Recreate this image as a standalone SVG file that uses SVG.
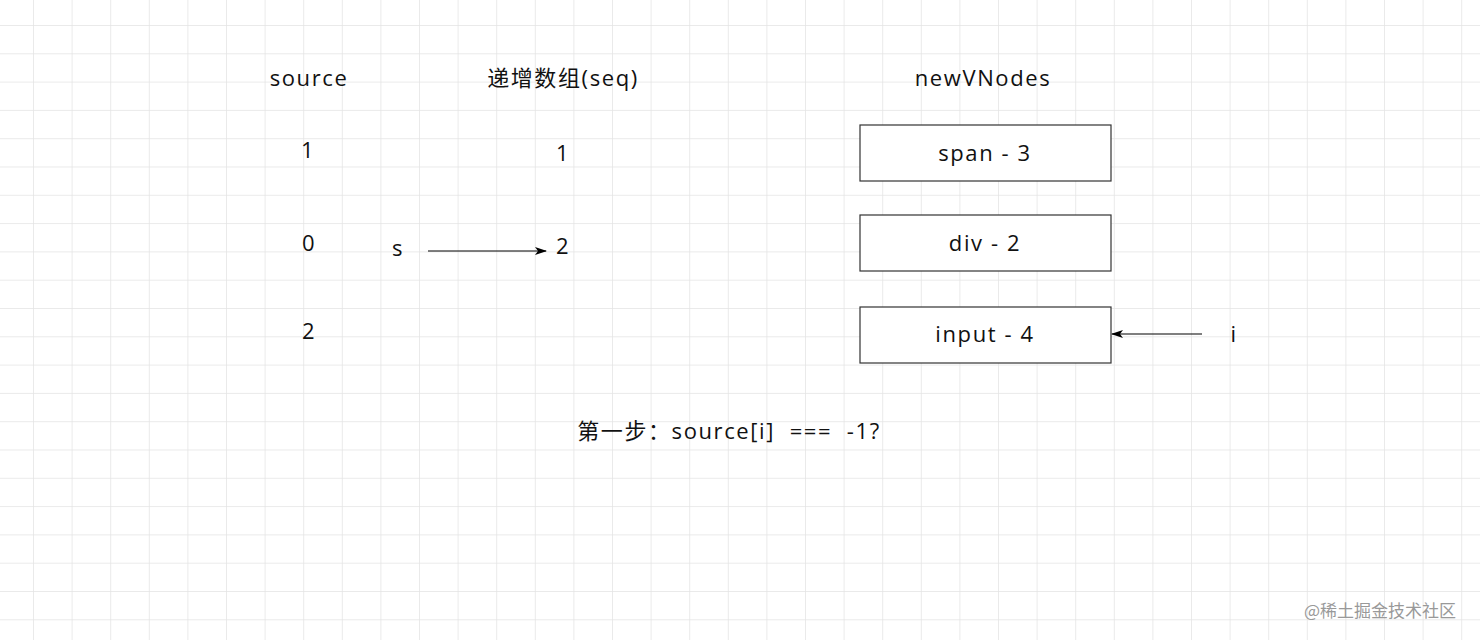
<svg xmlns="http://www.w3.org/2000/svg" width="1480" height="640" viewBox="0 0 1480 640">
<defs>
<pattern id="grid" x="33" y="25" width="38.6" height="28.3" patternUnits="userSpaceOnUse">
<path d="M0 0V28.3M0 0H38.6" fill="none" stroke="#e4e4e4" stroke-width="1.5"/>
</pattern>
<marker id="arr" markerWidth="12" markerHeight="10" refX="11" refY="5" orient="auto" markerUnits="userSpaceOnUse">
<path d="M0 1L12 5L0 9L3 5Z" fill="#000"/>
</marker>
<style>
text{font-family:"Open Sans","Noto Sans CJK SC",sans-serif;font-size:22px;letter-spacing:1.6px;fill:#111;text-anchor:middle}
.box{fill:#fff;stroke:#333;stroke-width:1.2}
.c{stroke:#000;stroke-width:1.2;fill:none;marker-end:url(#arr)}
</style>
</defs>
<rect width="1480" height="640" fill="#fff"/>
<rect width="1480" height="640" fill="url(#grid)"/>
<g id="headers">
<text x="309" y="86">source</text>
<text x="563" y="86">递增数组(seq)</text>
<text x="983" y="86">newVNodes</text>
</g>
<g id="source">
<text x="308" y="158">1</text>
<text x="309" y="251">0</text>
<text x="309" y="339">2</text>
</g>
<g id="seq">
<text x="563" y="161">1</text>
<text x="563" y="254">2</text>
</g>
<g id="label-s"><text x="398" y="256">s</text></g>
<g id="label-i"><text x="1234" y="342">i</text></g>
<g id="node-span"><rect class="box" x="860" y="125" width="251" height="56"/><text x="985" y="161">span - 3</text></g>
<g id="node-div"><rect class="box" x="860" y="215" width="251" height="56"/><text x="985" y="251">div - 2</text></g>
<g id="node-input"><rect class="box" x="860" y="307" width="251" height="56"/><text x="985" y="342">input - 4</text></g>
<g id="connectors">
<path class="c" d="M428 251H546"/>
<path class="c" d="M1202 334H1112"/>
</g>
<g id="caption"><text x="729" y="439" xml:space="preserve">第一步：source[i]  ===  -1?</text></g>
<text x="1380" y="617" style="font-size:17px;letter-spacing:0;fill:#999;font-family:'Noto Sans CJK SC',sans-serif">@稀土掘金技术社区</text>
</svg>
